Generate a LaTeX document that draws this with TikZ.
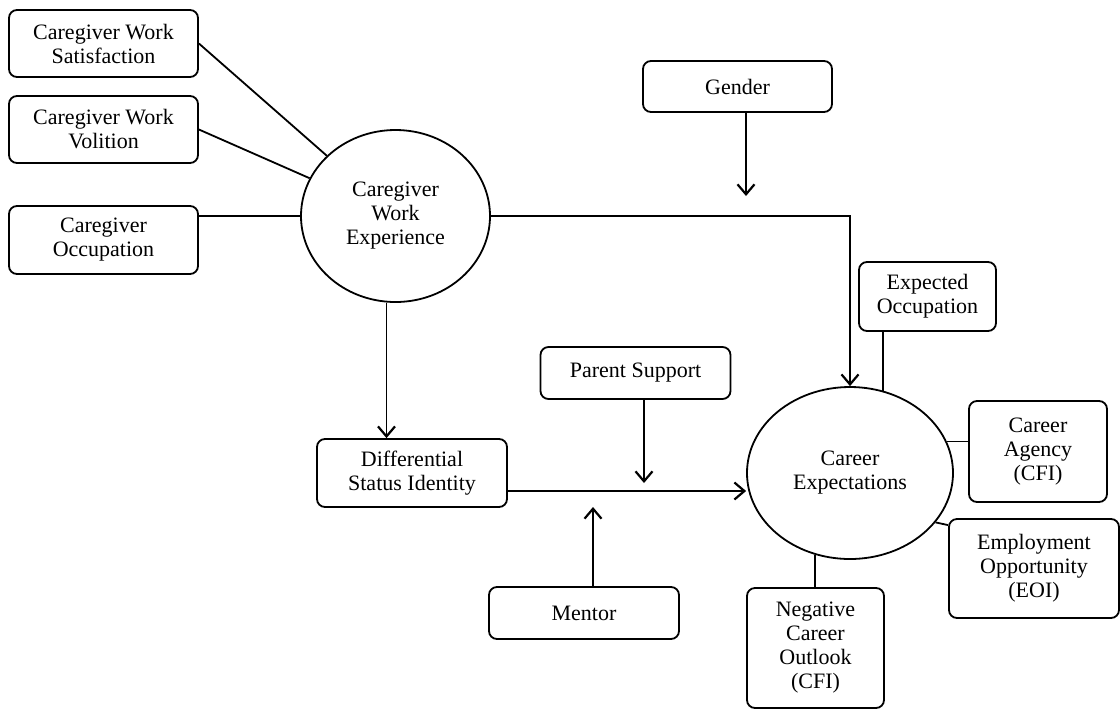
\documentclass[tikz,border=0pt]{standalone}
\usepackage{fontspec}
\setmainfont{Liberation Serif}
\usetikzlibrary{arrows.meta,shapes.geometric}
\begin{document}
\begin{tikzpicture}[x=0.5pt,y=-0.5pt,
    box/.style={draw,rounded corners=4pt,line width=0.9pt,align=center,inner sep=1pt,font=\fontsize{11}{12}\selectfont},
    oval/.style={draw,ellipse,line width=0.9pt,align=center,inner sep=0pt,font=\fontsize{11}{12}\selectfont},
    link/.style={line width=0.9pt},
    >={Straight Barb[length=5pt,width=8.5pt,line width=1.1pt]}]
    \useasboundingbox (0,0) rectangle (1120,709);
    \node [box,minimum width=94.5pt,minimum height=33.5pt] (sat) at (103.5,43.5) {Caregiver Work\\Satisfaction};
    \node [box,minimum width=94.5pt,minimum height=33.5pt] (vol) at (103.5,129.5) {Caregiver Work\\Volition};
    \node [box,minimum width=94.5pt,minimum height=34pt] (occ) at (103.5,240) {Caregiver\\Occupation};
    \node [oval,minimum width=94.5pt,minimum height=86pt] (cwe) at (395.5,216) {Caregiver\\Work\\Experience};
    \node [box,minimum width=94.5pt,minimum height=25.5pt] (gender) at (737.5,86.5) {Gender};
    \node [box,minimum width=68.5pt,minimum height=34.5pt] (expocc) at (927.5,296.5) {Expected\\Occupation};
    \node [box,minimum width=95pt,minimum height=26pt] (parent) at (635.5,373) {Parent Support};
    \node [box,minimum width=95pt,minimum height=34pt] (dsi) at (412,473) {Differential\\Status Identity};
    \node [box,minimum width=95pt,minimum height=26pt] (mentor) at (584,613) {Mentor};
    \node [oval,minimum width=103pt,minimum height=86pt] (ce) at (850,473) {Career\\Expectations};
    \node [box,minimum width=69pt,minimum height=50.5pt] (agency) at (1038,451.5) {Career\\Agency\\(CFI)};
    \node [box,minimum width=85pt,minimum height=49.5pt] (eoi) at (1034,568.5) {Employment\\Opportunity\\(EOI)};
    \node [box,minimum width=68.5pt,minimum height=60pt] (nco) at (815.5,648) {Negative\\Career\\Outlook\\(CFI)};
    \coordinate (gtip) at (746,196);
    \coordinate (ptip) at (644,483);
    \coordinate (mtip) at (593,507);
    \draw [link] (sat.east) -- (cwe);
    \draw [link] (vol.east) -- (cwe);
    \draw [link] (cwe.west) -- (cwe.west -| occ.east);
    \draw [link,->] (cwe.east) -| (ce.north);
    \draw [link,->] (gender.south -| gtip) -- (gtip);
    \draw [link,->] ([xshift=-4.5pt]cwe.south) -- ([xshift=-4.5pt]cwe.south |- dsi.north);
    \draw [link,->] ([yshift=-9pt]dsi.east) -- ([yshift=-9pt]dsi.east -| ce.west);
    \draw [link,->] (parent.south -| ptip) -- (ptip);
    \draw [link,->] (mentor.north -| mtip) -- (mtip);
    \draw [link] (ce.68) -- (ce.68 |- expocc.south);
    \draw [link] (ce.18.5) -- (ce.18.5 -| agency.west);
    \draw [link] (ce.-30) -- ([yshift=-3.5pt]eoi.north west);
    \draw [link] (ce.-113) -- (ce.-113 |- nco.north);
\end{tikzpicture}
\end{document}
